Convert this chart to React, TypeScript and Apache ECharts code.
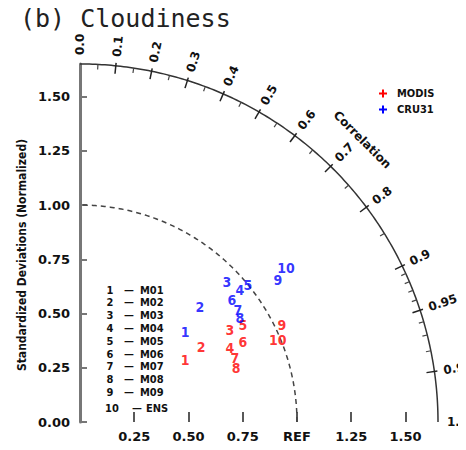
import React, { useEffect, useRef } from "react";
import * as echarts from "echarts";

// ---- data ----
const titleText = "(b) Cloudiness";
const yTitle = "Standardized Deviations (Normalized)";
const seriesNames = ["MODIS", "CRU31"];
const seriesColors = ["#ff0000", "#0000ff"];
const markerLabels = ["1", "2", "3", "4", "5", "6", "7", "8", "9", "10"];
const modelNames = ["M01", "M02", "M03", "M04", "M05", "M06", "M07", "M08", "M09", "ENS"];

// Taylor-diagram cartesian coordinates (std*corr, std*sqrt(1-corr^2))
const modisX = [0.484, 0.558, 0.691, 0.691, 0.751, 0.751, 0.714, 0.719, 0.931, 0.912];
const modisY = [0.286, 0.346, 0.424, 0.341, 0.447, 0.369, 0.295, 0.249, 0.447, 0.378];
const cruX = [0.484, 0.553, 0.677, 0.737, 0.774, 0.7, 0.728, 0.737, 0.912, 0.949];
const cruY = [0.415, 0.53, 0.645, 0.608, 0.631, 0.562, 0.516, 0.479, 0.654, 0.71];

const stdTicks = [0, 0.25, 0.5, 0.75, 1.0, 1.25, 1.5];
const xTicks = [0.25, 0.5, 0.75, 1.0, 1.25, 1.5];
const refStd = 1.0;
const maxStd = 1.65;
const corrTicks = [0, 0.1, 0.2, 0.3, 0.4, 0.5, 0.6, 0.7, 0.8, 0.9, 0.95, 0.99, 1.0];
const corrLabels = ["0.0", "0.1", "0.2", "0.3", "0.4", "0.5", "0.6", "0.7", "0.8", "0.9", "0.95", "0.99", "1.0"];
const corrMinor = [0.05, 0.15, 0.25, 0.35, 0.45, 0.55, 0.65, 0.75, 0.85, 0.91, 0.92, 0.93, 0.94, 0.96, 0.97, 0.98];
const corrTitle = "Correlation";

const boldFont = "DejaVu Sans";

export default function App() {
  const ref = useRef<HTMLDivElement>(null);
  useEffect(() => {
    if (!ref.current) return;
    const chart = echarts.init(ref.current, undefined, { renderer: "svg" });

    const polar = (r: number, th: number) => [r * Math.cos(th), r * Math.sin(th)];

    const renderFrame = (params: any, api: any) => {
      const children: any[] = [];
      const arcPts = (r: number) => {
        const pts: number[][] = [];
        for (let i = 0; i <= 180; i++) {
          const th = (Math.PI / 2) * (i / 180);
          pts.push(api.coord(polar(r, th)));
        }
        return pts;
      };
      children.push({
        type: "polyline",
        shape: { points: arcPts(maxStd) },
        style: { stroke: "#333", lineWidth: 1.5, fill: null },
      });
      children.push({
        type: "polyline",
        shape: { points: arcPts(refStd) },
        style: { stroke: "#444", lineWidth: 1.5, fill: null, lineDash: [5, 4] },
      });
      const pxPerUnit = api.size([1, 0])[0];
      corrTicks.forEach((c, i) => {
        const th = Math.acos(c);
        const a = api.coord(polar(maxStd - 8 / pxPerUnit, th));
        const b = api.coord(polar(maxStd + 3 / pxPerUnit, th));
        if (c > 0 && c < 1) {
          children.push({
            type: "line",
            shape: { x1: a[0], y1: a[1], x2: b[0], y2: b[1] },
            style: { stroke: "#222", lineWidth: 1.5 },
          });
        }
        const p = api.coord(polar(maxStd + 9 / pxPerUnit, th));
        children.push({
          type: "text",
          x: p[0],
          y: p[1],
          rotation: th,
          style: {
            text: corrLabels[i],
            align: "left",
            verticalAlign: "middle",
            fontSize: 12,
            fontWeight: "bold",
            fontFamily: boldFont,
            fill: "#111",
          },
        });
      });
      corrMinor.forEach((c) => {
        const th = Math.acos(c);
        const a = api.coord(polar(maxStd - 5 / pxPerUnit, th));
        const b = api.coord(polar(maxStd, th));
        children.push({
          type: "line",
          shape: { x1: a[0], y1: a[1], x2: b[0], y2: b[1] },
          style: { stroke: "#444", lineWidth: 1.2 },
        });
      });
      const tp = api.coord(polar(1.84, Math.PI / 4));
      children.push({
        type: "text",
        x: tp[0],
        y: tp[1],
        rotation: -Math.PI / 4,
        style: {
          text: corrTitle,
          align: "center",
          verticalAlign: "middle",
          fontSize: 12,
          fontWeight: "bold",
          fontFamily: boldFont,
          fill: "#111",
        },
      });
      return { type: "group", children };
    };

    const makeScatter = (name: string, xs: number[], ys: number[], color: string) => ({
      name,
      type: "scatter",
      symbolSize: 0,
      itemStyle: { color },
      data: xs.map((x, i) => [x, ys[i]]),
      label: {
        show: true,
        position: "inside",
        formatter: (p: any) => markerLabels[p.dataIndex],
        color,
        fontSize: 14,
        fontWeight: "bold",
        fontFamily: "DejaVu Sans Condensed",
      },
      z: 5,
    });

    const graphics: any[] = [
      {
        type: "text",
        left: 20,
        top: 6,
        style: {
          text: titleText,
          fontSize: 25,
          fontFamily: "DejaVu Sans Mono",
          fill: "#222",
        },
      },
      {
        type: "text",
        x: 22,
        y: 255,
        rotation: Math.PI / 2,
        style: {
          text: yTitle,
          align: "center",
          verticalAlign: "middle",
          fontSize: 12,
          fontWeight: "bold",
          fontFamily: "DejaVu Sans Condensed",
          fill: "#111",
        },
      },
    ];
    modelNames.forEach((m, i) => {
      const last = i === modelNames.length - 1;
      const y = 290 + 12.8 * i + (last ? 3 : 0);
      const common = { fontSize: 11, fontWeight: "bold", fontFamily: "DejaVu Sans Condensed", fill: "#111", verticalAlign: "middle" };
      graphics.push({ type: "text", x: last ? 112 : 110, y, style: { ...common, text: markerLabels[i], align: "center" } });
      graphics.push({ type: "text", x: last ? 137 : 129, y, style: { ...common, text: "—", align: "center" } });
      graphics.push({ type: "text", x: last ? 146 : 140, y, style: { ...common, text: m, align: "left" } });
    });

    chart.setOption({
      animation: false,
      backgroundColor: "#ffffff",
      grid: { left: 80, top: 64, width: 358, height: 358 },
      legend: {
        orient: "vertical",
        left: 374,
        top: 83,
        itemWidth: 8,
        itemHeight: 8,
        itemGap: 5,
        icon: "path://M3,0H5V3H8V5H5V8H3V5H0V3H3Z",
        textStyle: { fontSize: 11, fontWeight: "bold", fontFamily: "DejaVu Sans Condensed", color: "#111", padding: [0, 0, 0, 5] },
        data: seriesNames.map((n, i) => ({ name: n, itemStyle: { color: seriesColors[i], opacity: 1 } })),
      },
      xAxis: {
        type: "value",
        min: 0,
        max: maxStd,
        axisLine: { show: false },
        splitLine: { show: false },
        axisTick: {
          show: true,
          inside: true,
          length: 10,
          customValues: xTicks,
          lineStyle: { color: "#222", width: 1.5 },
        },
        axisLabel: {
          customValues: xTicks,
          formatter: (v: number) => (v === refStd ? "REF" : v.toFixed(2)),
          fontSize: 13,
          fontWeight: "bold",
          fontFamily: boldFont,
          color: "#111",
          margin: 8,
        },
      },
      yAxis: {
        type: "value",
        min: 0,
        max: maxStd,
        splitLine: { show: false },
        axisLine: { show: true, lineStyle: { color: "#777", width: 3 } },
        axisTick: {
          show: true,
          inside: true,
          length: 7,
          customValues: stdTicks,
          lineStyle: { color: "#777", width: 2 },
        },
        axisLabel: {
          customValues: stdTicks,
          formatter: (v: number) => v.toFixed(2),
          fontSize: 13,
          fontWeight: "bold",
          fontFamily: boldFont,
          color: "#111",
          margin: 10,
        },
      },
      graphic: graphics,
      series: [
        {
          type: "custom",
          name: "frame",
          coordinateSystem: "cartesian2d",
          clip: false,
          silent: true,
          data: [[0, 0]],
          renderItem: renderFrame,
          z: 2,
        },
        makeScatter(seriesNames[0], modisX, modisY, seriesColors[0]),
        makeScatter(seriesNames[1], cruX, cruY, seriesColors[1]),
      ],
    });
    return () => chart.dispose();
  }, []);
  return <div ref={ref} style={{ width: 466, height: 450, margin: -8 }} />;
}
